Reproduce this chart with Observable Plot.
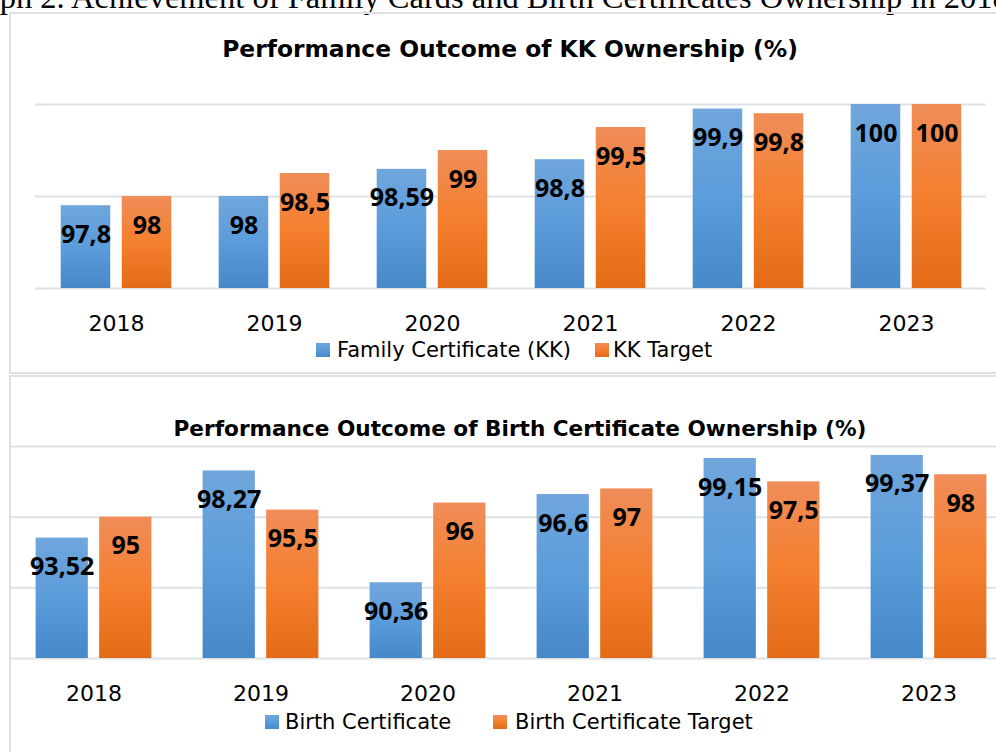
<!DOCTYPE html>
<html>
<head>
<meta charset="utf-8">
<script src="https://cdn.jsdelivr.net/npm/d3@7"></script>
<script src="https://cdn.jsdelivr.net/npm/@observablehq/plot@0.6"></script>
<style>
  html, body { margin: 0; padding: 0; background: #fff; }
  body { width: 996px; height: 752px; position: relative; overflow: hidden; }
  .abs { position: absolute; }
  .caption { font-family: "Liberation Serif", "Times New Roman", serif; font-size: 32.5px; line-height: 32.5px; white-space: nowrap; color: #000; }
  .frame { border: 2px solid #dde1e6; box-sizing: border-box; }
  .title { font-family: "DejaVu Sans", sans-serif; font-weight: bold; color: #000; white-space: nowrap; transform: translate(-50%, -50%); }
  .leg { font-family: "DejaVu Sans", sans-serif; font-size: 21px; color: #000; white-space: nowrap; transform: translateY(-50%); line-height: 24px; }
  .sw { width: 14px; height: 14px; transform: translateY(-50%); }
  .swb { background: linear-gradient(#70a6dc, #5b9cdb 50%, #4688c8); }
  .swo { background: linear-gradient(#f08d59, #f47f2e 50%, #e36b18); }
  #chart1, #chart2 { width: 1100px; }
  #chart1 svg, #chart2 svg { max-width: none !important; display: block; }
</style>
</head>
<body>
<div class="abs caption" style="left:-49px; top:-19px;">Graph 2. Achievement of Family Cards and Birth Certificates Ownership in 2018-2023</div>

<div class="abs frame" style="left:9px; top:12px; width:1010px; height:362px;"></div>
<div class="abs frame" style="left:9px; top:375px; width:1010px; height:400px;"></div>

<div class="abs title" style="left:510px; top:49px; font-size:23.4px;">Performance Outcome of KK Ownership (%)</div>
<div class="abs title" style="left:520px; top:428px; font-size:21.6px;">Performance Outcome of Birth Certificate Ownership (%)</div>

<div id="chart1" class="abs" style="left:0; top:90px;"></div>
<div id="chart2" class="abs" style="left:0; top:436px;"></div>

<div class="abs sw swb" style="left:316px; top:350px;"></div>
<div class="abs leg" style="left:337px; top:350px;">Family Certificate (KK)</div>
<div class="abs sw swo" style="left:595px; top:350px;"></div>
<div class="abs leg" style="left:613px; top:350px;">KK Target</div>

<div class="abs sw swb" style="left:265px; top:722px;"></div>
<div class="abs leg" style="left:285px; top:722px;">Birth Certificate</div>
<div class="abs sw swo" style="left:493px; top:722px;"></div>
<div class="abs leg" style="left:515px; top:722px;">Birth Certificate Target</div>

<script>
// ---- Data ----
const years = ["2018", "2019", "2020", "2021", "2022", "2023"];

const kkActual = [97.8, 98, 98.59, 98.8, 99.9, 100];
const kkTarget = [98, 98.5, 99, 99.5, 99.8, 100];
const kkTicks = [96, 98, 100];

const bcActual = [93.52, 98.27, 90.36, 96.6, 99.15, 99.37];
const bcTarget = [95, 95.5, 96, 97, 97.5, 98];
const bcTicks = [85, 90, 95, 100];

// ---- Helpers ----
const fmt = v => String(v).replace(".", ",");
const rows = vals => years.map((year, i) => ({year, value: vals[i]}));

function addGradients(svg, prefix) {
  const defs = d3.select(svg).insert("defs", ":first-child");
  const grads = [
    [prefix + "Blue", ["#70a6dc", "#5b9cdb", "#4688c8"]],
    [prefix + "Orange", ["#f08d59", "#f47f2e", "#e36b18"]]
  ];
  for (const [id, cols] of grads) {
    const g = defs.append("linearGradient").attr("id", id)
      .attr("x1", 0).attr("y1", 0).attr("x2", 0).attr("y2", 1);
    g.append("stop").attr("offset", "0%").attr("stop-color", cols[0]);
    g.append("stop").attr("offset", "50%").attr("stop-color", cols[1]);
    g.append("stop").attr("offset", "100%").attr("stop-color", cols[2]);
  }
}

function makeChart({actual, target, ticks, width, height, ml, mr, mt, mb, outer, gap, prefix}) {
  const yMin = ticks[0], yMax = ticks[ticks.length - 1];
  const step = (width - ml - mr) / years.length;
  const bw = (step - 2 * outer - gap) / 2;
  const off = gap / 2 + bw / 2;
  const labelStyle = {fontFamily: "Open Sans", fontSize: 25, fontWeight: "bold", fill: "#000", dy: 29};
  const svg = Plot.plot({
    width, height,
    marginLeft: ml, marginRight: mr, marginTop: mt, marginBottom: mb,
    style: {fontSize: "22px", fontFamily: "DejaVu Sans", color: "#000", background: "transparent", overflow: "visible", maxWidth: "none"},
    x: {domain: years, padding: 0, tickSize: 0, tickPadding: 27, label: null},
    y: {domain: [yMin, yMax], axis: null},
    marks: [
      Plot.ruleY(ticks, {stroke: "#dde1e6", strokeWidth: 2}),
      Plot.barY(rows(actual), {x: "year", y1: () => yMin, y2: "value", fill: `url(#${prefix}Blue)`,
        insetLeft: outer, insetRight: step - outer - bw}),
      Plot.barY(rows(target), {x: "year", y1: () => yMin, y2: "value", fill: `url(#${prefix}Orange)`,
        insetLeft: outer + bw + gap, insetRight: outer}),
      Plot.text(rows(actual), {x: "year", y: "value", text: d => fmt(d.value), dx: -off, ...labelStyle}),
      Plot.text(rows(target), {x: "year", y: "value", text: d => fmt(d.value), dx: off, ...labelStyle})
    ]
  });
  svg.style.maxWidth = "none";
  addGradients(svg, prefix);
  return svg;
}

document.getElementById("chart1").append(makeChart({
  actual: kkActual, target: kkTarget, ticks: kkTicks,
  width: 996, height: 248, ml: 35, mr: 10, mt: 14, mb: 50,
  outer: 23.7, gap: 11, prefix: "kk"
}));

document.getElementById("chart2").append(makeChart({
  actual: bcActual, target: bcTarget, ticks: bcTicks,
  width: 1022, height: 272, ml: 9, mr: 9, mt: 10, mb: 50,
  outer: 25.6, gap: 11, prefix: "bc"
}));
</script>
</body>
</html>
